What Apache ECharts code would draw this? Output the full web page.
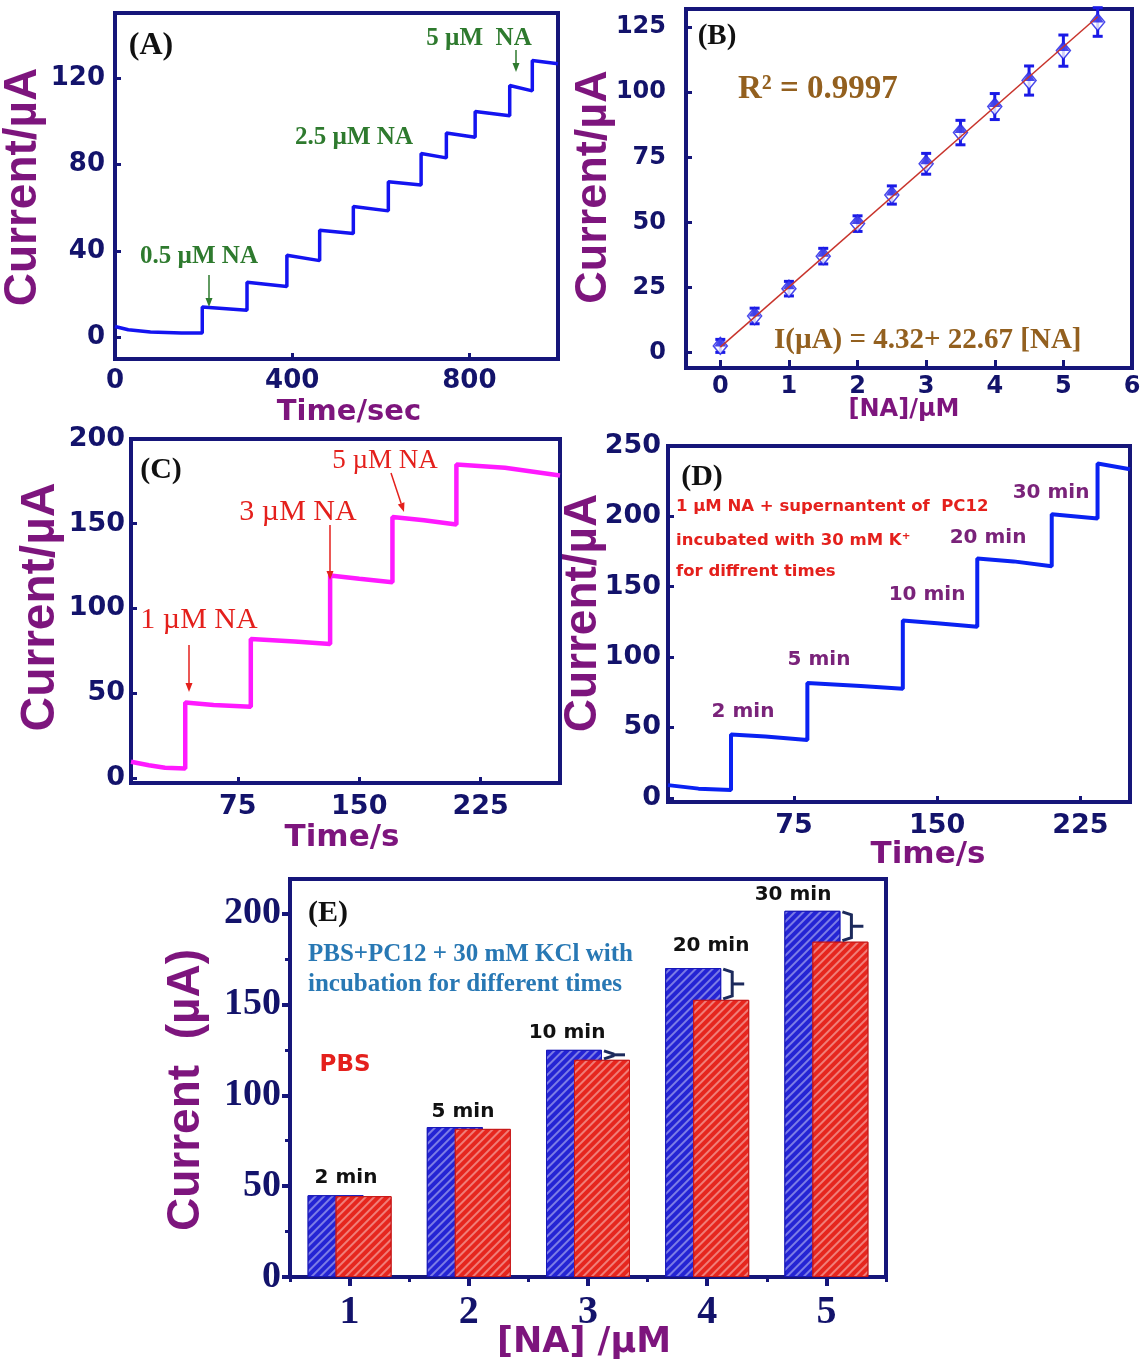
<!DOCTYPE html>
<html><head><meta charset="utf-8">
<script src="https://cdn.jsdelivr.net/npm/echarts@6/dist/echarts.min.js"></script>
<style>html,body{margin:0;padding:0;background:#fff}#c{width:1146px;height:1370px}</style>
</head><body><div id="c"></div>
<script>
// ---------------- Panel A : amperometric response, 0.5 µM steps ----------------
const timeA    = [0, 30, 80, 150, 197, 197, 298, 298, 388, 388, 462, 462, 538, 538, 617, 617, 691, 691, 748, 748, 813, 813, 891, 891, 942, 942, 1000];
const currentA = [5, 3.5, 2.5, 2, 2, 14, 12.5, 25.5, 23.5, 38, 35.5, 49.5, 48, 60.5, 58.5, 72, 70.5, 85, 83, 94.5, 92.5, 104.5, 102.5, 116.5, 114, 128, 126.5];
const xTicksA = [0, 400, 800];
const yTicksA = [0, 40, 80, 120];

// ---------------- Panel B : calibration ----------------
const concB    = [0, 0.5, 1, 1.5, 2, 2.5, 3, 3.5, 4, 4.5, 5, 5.5];
const currentB = [2.5, 14, 24.5, 37, 49.5, 60.5, 72.5, 84.5, 94.5, 104.5, 116, 127];
const errorB   = [2.5, 3, 2.8, 3, 3, 3.5, 4, 4.7, 5, 5.6, 6, 5.5];
const fitConcB    = [0, 5.5];
const fitCurrentB = [2, 129];
const xTicksB = [0, 1, 2, 3, 4, 5, 6];
const yTicksB = [0, 25, 50, 75, 100, 125];

// ---------------- Panel C ----------------
const timeC    = [9, 20, 30, 42.5, 42.5, 60, 83, 83, 110, 132, 132, 150, 170.5, 170.5, 190, 210, 210, 240, 274];
const currentC = [9.5, 7.5, 6, 5.5, 44.5, 43, 42, 82, 80.5, 79, 119.5, 117.5, 115.5, 154, 152, 149.5, 185, 183, 178.5];
const xTicksC = [75, 150, 225];
const yTicksC = [0, 50, 100, 150, 200];

// ---------------- Panel D ----------------
const timeD    = [9, 25, 42, 42, 60, 82, 82, 110, 132, 132, 150, 171, 171, 190, 210, 210, 234, 234, 251];
const currentD = [9, 6.5, 5.5, 45, 43.5, 41, 81.5, 79.5, 77.5, 126, 124, 121.5, 170, 168, 164.5, 201.5, 198.5, 237.5, 233.5];
const xTicksD = [75, 150, 225];
const yTicksD = [0, 50, 100, 150, 200, 250];
const minutesD = ['2 min', '5 min', '10 min', '20 min', '30 min'];

// ---------------- Panel E ----------------
const concE = ['1', '2', '3', '4', '5'];
const kclE  = [45, 82.5, 125, 170, 201.5];
const pbsE  = [44.5, 81.5, 119.5, 152.5, 184.5];
const incubationE = ['2 min', '5 min', '10 min', '20 min', '30 min'];
const yTicksE = [0, 50, 100, 150, 200];
const yMinorE = [25, 75, 125, 175];

// ---------------- styling ----------------
const FRAME = '#16167a', NAVY = '#13136b', PURPLE = '#7d157d';
const BLUE = '#1414f0', MAG = '#ff1aff', GREEN = '#2e7a2e', RED = '#e4201c', BROWN = '#93601f';
const SANS = 'DejaVu Sans', SERIF = 'Liberation Serif', ARIAL = 'Liberation Sans';

function vAxis(gi, min, max, ticks, margin, fontSize, extra) {
  return Object.assign({
    type: 'value', gridIndex: gi, min: min, max: max,
    splitLine: { show: false },
    axisLine: { show: true, onZero: false, lineStyle: { color: FRAME, width: 4 } },
    axisTick: { show: true, inside: true, length: 6, customValues: ticks, lineStyle: { color: FRAME, width: 3 } },
    axisLabel: { customValues: ticks, margin: margin, color: NAVY, fontFamily: SANS, fontWeight: 'bold', fontSize: fontSize }
  }, extra || {});
}
const pairs = (xs, ys) => xs.map((x, i) => [x, ys[i]]);

function txt(text, x, y, font, color, align, rot) {
  return { type: 'text', x: x, y: y, rotation: rot || 0, z: 100,
    style: { text: text, font: font, fill: color, textAlign: align || 'center', align: align || 'center',
             textVerticalAlign: 'middle', verticalAlign: 'middle' } };
}
function arrow(x1, y1, x2, y2, color) {
  const a = Math.atan2(y2 - y1, x2 - x1), L = 9, W = 3.5;
  const bx = x2 - L * Math.cos(a), by = y2 - L * Math.sin(a);
  const px = -Math.sin(a) * W, py = Math.cos(a) * W;
  return [
    { type: 'line', z: 100, shape: { x1: x1, y1: y1, x2: bx, y2: by }, style: { stroke: color, lineWidth: 1.5 } },
    { type: 'polygon', z: 100, shape: { points: [[x2, y2], [bx + px, by + py], [bx - px, by - py]] }, style: { fill: color } }
  ];
}

const gridBase = { show: true, borderColor: FRAME, borderWidth: 4, backgroundColor: 'transparent' };

const decalStripe = { symbol: 'rect', symbolSize: 1, rotation: -Math.PI / 4, dashArrayX: [1, 0], dashArrayY: [1.5, 4], color: 'rgba(255,255,255,0.4)' };

const option = {
  animation: false,
  backgroundColor: '#fff',
  grid: [
    Object.assign({ left: 115, top: 13, width: 443, height: 346 }, gridBase),
    Object.assign({ left: 686, top: 9, width: 446, height: 359 }, gridBase),
    Object.assign({ left: 131, top: 439, width: 429, height: 344 }, gridBase),
    Object.assign({ left: 668, top: 446, width: 462, height: 356 }, gridBase),
    Object.assign({ left: 290, top: 879, width: 596, height: 398 }, gridBase)
  ],
  xAxis: [
    vAxis(0, 0, 1000, xTicksA, 9, 26),
    vAxis(1, -0.5, 6, xTicksB, 7, 24, { axisTick: { show: true, inside: true, length: 8, customValues: xTicksB, lineStyle: { color: FRAME, width: 3 } } }),
    vAxis(2, 9, 274, xTicksC, 10, 27),
    vAxis(3, 9, 251, xTicksD, 10, 27),
    { type: 'category', gridIndex: 4, data: concE, position: 'bottom', offset: 0,
      axisLine: { show: true, lineStyle: { color: FRAME, width: 4 } },
      axisTick: { show: true, alignWithLabel: true, inside: false, length: 9, lineStyle: { color: FRAME, width: 4 } },
      axisLabel: { margin: 16, color: NAVY, fontFamily: SERIF, fontWeight: 'bold', fontSize: 40 } },
    { type: 'category', gridIndex: 4, data: concE, position: 'bottom', offset: 0,
      axisLine: { show: true, lineStyle: { color: FRAME, width: 4 } }, axisLabel: { show: false },
      axisTick: { show: true, interval: 0, alignWithLabel: false, inside: false, length: 5, lineStyle: { color: FRAME, width: 3 } } }
  ],
  yAxis: [
    vAxis(0, -10, 150, yTicksA, 10, 26),
    vAxis(1, -6, 132, yTicksB, 20, 24),
    vAxis(2, -3, 200, yTicksC, 6, 27),
    vAxis(3, -3, 250, yTicksD, 7, 27),
    vAxis(4, 0, 219, yTicksE, 9, 38, { position: 'left',
      axisTick: { show: true, inside: false, length: 8, customValues: yTicksE, lineStyle: { color: FRAME, width: 4 } },
      axisLabel: { customValues: yTicksE, margin: 9, color: NAVY, fontFamily: SERIF, fontWeight: 'bold', fontSize: 38 } }),
    vAxis(4, 0, 219, yMinorE, 9, 10, { position: 'left', offset: 0,
      axisTick: { show: true, inside: false, length: 5, customValues: yMinorE, lineStyle: { color: FRAME, width: 3 } },
      axisLabel: { show: false } })
  ],
  series: [
    { type: 'line', xAxisIndex: 0, yAxisIndex: 0, data: pairs(timeA, currentA), showSymbol: false,
      lineStyle: { color: BLUE, width: 3.5 }, z: 3 },
    // B error bars
    { type: 'custom', xAxisIndex: 1, yAxisIndex: 1, z: 3,
      data: concB.map((x, i) => [x, currentB[i] - errorB[i], currentB[i] + errorB[i]]),
      renderItem: function (params, api) {
        const lo = api.coord([api.value(0), api.value(1)]);
        const hi = api.coord([api.value(0), api.value(2)]);
        const w = 5, st = { stroke: '#1a1ae6', lineWidth: 3 };
        return { type: 'group', children: [
          { type: 'line', shape: { x1: lo[0], y1: lo[1], x2: hi[0], y2: hi[1] }, style: st },
          { type: 'line', shape: { x1: lo[0] - w, y1: lo[1], x2: lo[0] + w, y2: lo[1] }, style: st },
          { type: 'line', shape: { x1: hi[0] - w, y1: hi[1], x2: hi[0] + w, y2: hi[1] }, style: st }
        ] };
      } },
    { type: 'scatter', xAxisIndex: 1, yAxisIndex: 1, data: pairs(concB, currentB), symbol: 'diamond', symbolSize: [14, 17],
      itemStyle: { color: '#fff', borderColor: '#1a1ae6', borderWidth: 1.5 }, z: 4 },
    { type: 'scatter', xAxisIndex: 1, yAxisIndex: 1, data: pairs(concB, currentB), symbol: 'triangle', symbolSize: [12, 9],
      symbolOffset: [0, -4], itemStyle: { color: '#1a1ae6' }, z: 5 },
    { type: 'line', xAxisIndex: 1, yAxisIndex: 1, data: pairs(fitConcB, fitCurrentB), showSymbol: false,
      lineStyle: { color: '#c8342c', width: 1.5 }, z: 6 },
    { type: 'line', xAxisIndex: 2, yAxisIndex: 2, data: pairs(timeC, currentC), showSymbol: false,
      lineStyle: { color: MAG, width: 4.5 }, z: 3 },
    { type: 'line', xAxisIndex: 3, yAxisIndex: 3, data: pairs(timeD, currentD), showSymbol: false,
      lineStyle: { color: '#0a22f2', width: 4 }, z: 3 },
    { type: 'bar', xAxisIndex: 4, yAxisIndex: 4, data: kclE, barWidth: 56, barGap: '-50%',
      itemStyle: { color: '#2424d4', borderColor: '#1818b8', borderWidth: 1, decal: decalStripe }, z: 2 },
    { type: 'bar', xAxisIndex: 4, yAxisIndex: 4, data: pbsE, barWidth: 56,
      itemStyle: { color: '#e6261e', borderColor: '#c81818', borderWidth: 1, decal: decalStripe }, z: 3 },
    // E brackets between the two bars
    { type: 'custom', xAxisIndex: 4, yAxisIndex: 4, z: 5,
      data: concE.map((c, i) => [i, kclE[i], pbsE[i]]).filter(d => d[1] - d[2] > 3),
      renderItem: function (params, api) {
        const top = api.coord([api.value(0), api.value(1)]);
        const bot = api.coord([api.value(0), api.value(2)]);
        const x0 = top[0] + 16, xv = top[0] + 25, xt = top[0] + 37, ym = (top[1] + bot[1]) / 2;
        const st = { stroke: '#1c2a5c', lineWidth: 3, fill: null };
        return { type: 'group', children: [
          { type: 'polyline', shape: { points: [[x0, top[1] + 1], [xv, top[1] + 4], [xv, bot[1] - 4], [x0, bot[1] - 1]] }, style: st },
          { type: 'line', shape: { x1: xv, y1: ym, x2: xt, y2: ym }, style: st }
        ] };
      } }
  ],
  graphic: [
    // axis titles
    txt('Current/µA', 23, 187, 'bold 46px ' + ARIAL, PURPLE, 'center', Math.PI / 2),
    txt('Time/sec', 349, 412, 'bold 29px ' + SANS, PURPLE),
    txt('Current/µA', 594, 187, 'bold 45px ' + ARIAL, PURPLE, 'center', Math.PI / 2),
    txt('[NA]/µM', 904, 410, 'bold 24px ' + SANS, PURPLE),
    txt('Current/µA', 41, 607, 'bold 48px ' + ARIAL, PURPLE, 'center', Math.PI / 2),
    txt('Time/s', 342, 838, 'bold 31px ' + SANS, PURPLE),
    txt('Current/µA', 583, 613, 'bold 46px ' + ARIAL, PURPLE, 'center', Math.PI / 2),
    txt('Time/s', 928, 855, 'bold 31px ' + SANS, PURPLE),
    txt('Current  (µA)', 186, 1090, 'bold 46px ' + ARIAL, PURPLE, 'center', Math.PI / 2),
    txt('[NA] /µM', 584, 1343, 'bold 35px ' + SANS, PURPLE),
    // A
    txt('(A)', 151, 46, 'bold 32px ' + SERIF, '#111'),
    txt('0.5 µM NA', 199, 257, 'bold 25px ' + SERIF, GREEN),
    txt('2.5 µM NA', 354, 138, 'bold 25px ' + SERIF, GREEN),
    txt('5 µM  NA', 479, 39, 'bold 25px ' + SERIF, GREEN),
    ...arrow(209, 275, 209, 307, GREEN),
    ...arrow(516, 50, 516, 72, GREEN),
    // B
    txt('(B)', 717, 37, 'bold 29px ' + SERIF, '#111'),
    txt('R² = 0.9997', 738, 89, 'bold 33px ' + SERIF, BROWN, 'left'),
    txt('I(µA) = 4.32+ 22.67 [NA]', 774, 341, 'bold 29px ' + SERIF, BROWN, 'left'),
    // C
    txt('(C)', 161, 470, 'bold 30px ' + SERIF, '#111'),
    txt('1 µM NA', 199, 620, '30px ' + SERIF, RED),
    txt('3 µM NA', 298, 512, '30px ' + SERIF, RED),
    txt('5 µM NA', 385, 461, '27px ' + SERIF, RED),
    ...arrow(189, 645, 189, 692, RED),
    ...arrow(330, 525, 330, 580, RED),
    ...arrow(391, 473, 404, 512, RED),
    // D
    txt('(D)', 702, 477, 'bold 30px ' + SERIF, '#111'),
    txt('1 µM NA + supernantent of  PC12', 676, 507, 'bold 16.5px ' + SANS, RED, 'left'),
    txt('incubated with 30 mM K⁺', 676, 541, 'bold 16.5px ' + SANS, RED, 'left'),
    txt('for diffrent times', 676, 572, 'bold 16.5px ' + SANS, RED, 'left'),
    txt(minutesD[0], 743, 712, 'bold 20px ' + SANS, '#7a237a'),
    txt(minutesD[1], 819, 660, 'bold 20px ' + SANS, '#7a237a'),
    txt(minutesD[2], 927, 595, 'bold 20px ' + SANS, '#7a237a'),
    txt(minutesD[3], 988, 538, 'bold 20px ' + SANS, '#7a237a'),
    txt(minutesD[4], 1051, 493, 'bold 20px ' + SANS, '#7a237a'),
    // E
    txt('(E)', 328, 913, 'bold 30px ' + SERIF, '#111'),
    txt('PBS+PC12 + 30 mM KCl with', 308, 955, 'bold 25px ' + SERIF, '#2878b4', 'left'),
    txt('incubation for different times', 308, 985, 'bold 25px ' + SERIF, '#2878b4', 'left'),
    txt('PBS', 345, 1065, 'bold 23px ' + SANS, RED),
    txt(incubationE[0], 346, 1178, 'bold 20px ' + SANS, '#111'),
    txt(incubationE[1], 463, 1112, 'bold 20px ' + SANS, '#111'),
    txt(incubationE[2], 567, 1033, 'bold 20px ' + SANS, '#111'),
    txt(incubationE[3], 711, 946, 'bold 20px ' + SANS, '#111'),
    txt(incubationE[4], 793, 895, 'bold 20px ' + SANS, '#111')
  ]
};

const chart = echarts.init(document.getElementById('c'), null, { renderer: 'canvas' });
chart.setOption(option);
</script>
</body></html>
